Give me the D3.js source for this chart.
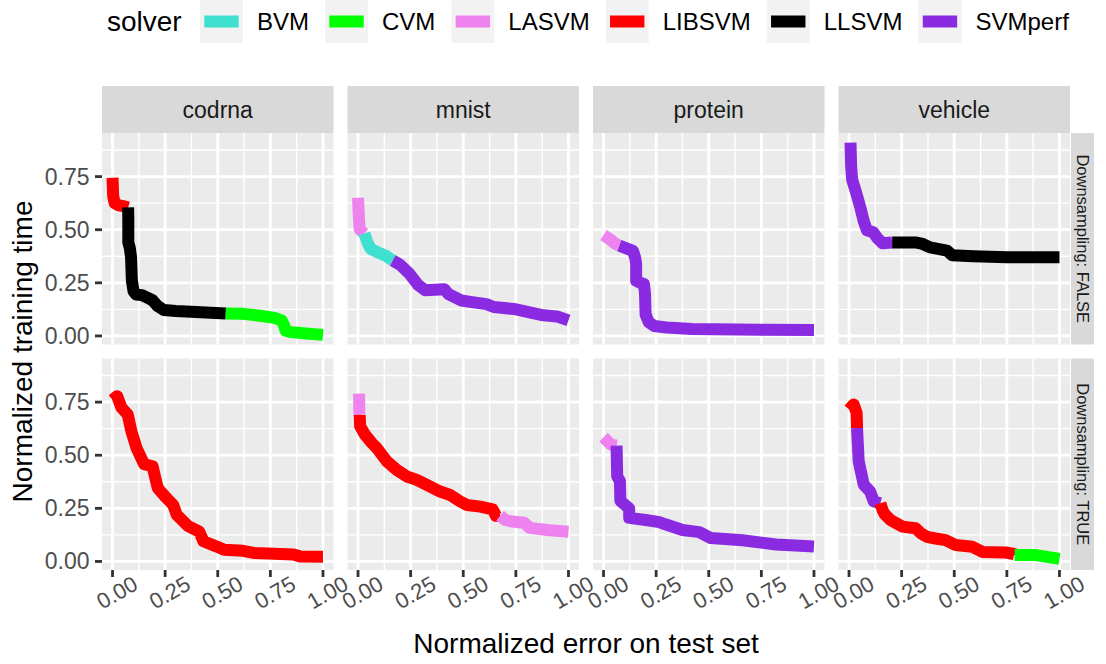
<!DOCTYPE html>
<html>
<head>
<meta charset="utf-8">
<script src="https://cdn.jsdelivr.net/npm/d3@7"></script>
<style>
  body { margin: 0; background: #fff; }
  svg { display: block; }
  text { font-family: "Liberation Sans", Arial, sans-serif; }
</style>
</head>
<body>
<svg id="chart" width="1106" height="664"></svg>
<script>
// Solvers and their colours
const solvers = ["BVM", "CVM", "LASVM", "LIBSVM", "LLSVM", "SVMperf"];
const solverColors = ["#40E0D0", "#00FF00", "#EE82EE", "#FF0000", "#000000", "#8A2BE2"];

// Facets
const datasets = ["codrna", "mnist", "protein", "vehicle"];
const downsampling = ["FALSE", "TRUE"];

// Axis ticks
const xTicks = [0, 0.25, 0.5, 0.75, 1];
const xTickLabels = ["0.00", "0.25", "0.50", "0.75", "1.00"];
const yTicks = [0, 0.25, 0.5, 0.75];
const yTickLabels = ["0.00", "0.25", "0.50", "0.75"];

// Traces: [normalized test error, normalized training time, best solver]
const codrnaFalse = [
  [0.000, 0.745, "LIBSVM"], [0.003, 0.660, "LIBSVM"], [0.010, 0.625, "LIBSVM"],
  [0.030, 0.615, "LIBSVM"], [0.058, 0.610, "LIBSVM"],
  [0.074, 0.605, "LLSVM"], [0.075, 0.560, "LLSVM"], [0.075, 0.440, "LLSVM"],
  [0.082, 0.415, "LLSVM"], [0.088, 0.370, "LLSVM"], [0.092, 0.260, "LLSVM"],
  [0.100, 0.210, "LLSVM"], [0.112, 0.195, "LLSVM"], [0.140, 0.192, "LLSVM"],
  [0.165, 0.180, "LLSVM"], [0.190, 0.168, "LLSVM"], [0.215, 0.140, "LLSVM"],
  [0.245, 0.122, "LLSVM"], [0.300, 0.117, "LLSVM"], [0.420, 0.112, "LLSVM"],
  [0.538, 0.106, "CVM"], [0.620, 0.104, "CVM"], [0.700, 0.095, "CVM"],
  [0.770, 0.085, "CVM"], [0.805, 0.072, "CVM"], [0.815, 0.050, "CVM"],
  [0.822, 0.025, "CVM"], [0.850, 0.018, "CVM"], [0.920, 0.012, "CVM"],
  [1.000, 0.005, "CVM"]
];
const mnistFalse = [
  [0.000, 0.650, "LASVM"], [0.004, 0.560, "LASVM"], [0.008, 0.500, "LASVM"],
  [0.030, 0.482, "BVM"], [0.045, 0.440, "BVM"], [0.060, 0.410, "BVM"],
  [0.095, 0.393, "BVM"], [0.135, 0.376, "BVM"],
  [0.165, 0.355, "SVMperf"], [0.200, 0.335, "SVMperf"], [0.245, 0.292, "SVMperf"],
  [0.285, 0.240, "SVMperf"], [0.320, 0.215, "SVMperf"], [0.410, 0.220, "SVMperf"],
  [0.430, 0.197, "SVMperf"], [0.490, 0.167, "SVMperf"], [0.550, 0.158, "SVMperf"],
  [0.610, 0.150, "SVMperf"], [0.645, 0.136, "SVMperf"], [0.740, 0.127, "SVMperf"],
  [0.880, 0.097, "SVMperf"], [0.945, 0.092, "SVMperf"], [1.000, 0.073, "SVMperf"]
];
const proteinFalse = [
  [0.000, 0.475, "LASVM"], [0.030, 0.455, "LASVM"], [0.055, 0.435, "LASVM"],
  [0.075, 0.425, "SVMperf"], [0.140, 0.400, "SVMperf"], [0.150, 0.370, "SVMperf"],
  [0.155, 0.340, "SVMperf"], [0.155, 0.260, "SVMperf"], [0.175, 0.250, "SVMperf"],
  [0.192, 0.245, "SVMperf"], [0.197, 0.200, "SVMperf"], [0.200, 0.100, "SVMperf"],
  [0.215, 0.065, "SVMperf"], [0.240, 0.047, "SVMperf"], [0.300, 0.040, "SVMperf"],
  [0.420, 0.033, "SVMperf"], [0.740, 0.029, "SVMperf"], [1.000, 0.028, "SVMperf"]
];
const vehicleFalse = [
  [0.007, 0.910, "SVMperf"], [0.010, 0.800, "SVMperf"], [0.015, 0.735, "SVMperf"],
  [0.035, 0.670, "SVMperf"], [0.055, 0.600, "SVMperf"], [0.070, 0.540, "SVMperf"],
  [0.085, 0.497, "SVMperf"], [0.115, 0.488, "SVMperf"], [0.135, 0.460, "SVMperf"],
  [0.160, 0.436, "SVMperf"],
  [0.205, 0.440, "LLSVM"], [0.315, 0.440, "LLSVM"], [0.350, 0.433, "LLSVM"],
  [0.385, 0.417, "LLSVM"], [0.465, 0.402, "LLSVM"], [0.490, 0.380, "LLSVM"],
  [0.590, 0.375, "LLSVM"], [0.750, 0.370, "LLSVM"], [1.000, 0.370, "LLSVM"]
];
const codrnaTrue = [
  [0.000, 0.760, "LIBSVM"], [0.022, 0.778, "LIBSVM"], [0.042, 0.725, "LIBSVM"],
  [0.072, 0.692, "LIBSVM"], [0.090, 0.612, "LIBSVM"], [0.114, 0.534, "LIBSVM"],
  [0.150, 0.458, "LIBSVM"], [0.190, 0.448, "LIBSVM"], [0.215, 0.345, "LIBSVM"],
  [0.255, 0.300, "LIBSVM"], [0.288, 0.266, "LIBSVM"], [0.305, 0.220, "LIBSVM"],
  [0.330, 0.195, "LIBSVM"], [0.360, 0.166, "LIBSVM"], [0.412, 0.140, "LIBSVM"],
  [0.432, 0.095, "LIBSVM"], [0.495, 0.070, "LIBSVM"], [0.530, 0.055, "LIBSVM"],
  [0.620, 0.050, "LIBSVM"], [0.670, 0.040, "LIBSVM"], [0.860, 0.033, "LIBSVM"],
  [0.892, 0.023, "LIBSVM"], [1.000, 0.022, "LIBSVM"]
];
const mnistTrue = [
  [0.005, 0.790, "LASVM"], [0.006, 0.700, "LASVM"],
  [0.008, 0.690, "LIBSVM"], [0.010, 0.636, "LIBSVM"], [0.033, 0.597, "LIBSVM"],
  [0.065, 0.558, "LIBSVM"], [0.089, 0.534, "LIBSVM"], [0.137, 0.471, "LIBSVM"],
  [0.184, 0.431, "LIBSVM"], [0.232, 0.400, "LIBSVM"], [0.279, 0.384, "LIBSVM"],
  [0.327, 0.360, "LIBSVM"], [0.390, 0.329, "LIBSVM"], [0.438, 0.313, "LIBSVM"],
  [0.486, 0.282, "LIBSVM"], [0.517, 0.266, "LIBSVM"], [0.581, 0.258, "LIBSVM"],
  [0.640, 0.245, "LIBSVM"], [0.655, 0.215, "LIBSVM"],
  [0.675, 0.215, "LASVM"], [0.700, 0.195, "LASVM"], [0.730, 0.188, "LASVM"],
  [0.790, 0.182, "LASVM"], [0.815, 0.158, "LASVM"], [0.900, 0.148, "LASVM"],
  [1.000, 0.140, "LASVM"]
];
const proteinTrue = [
  [0.000, 0.585, "LASVM"], [0.020, 0.565, "LASVM"], [0.035, 0.550, "LASVM"],
  [0.062, 0.545, "SVMperf"], [0.065, 0.400, "SVMperf"], [0.078, 0.378, "SVMperf"],
  [0.080, 0.285, "SVMperf"], [0.100, 0.268, "SVMperf"], [0.122, 0.250, "SVMperf"],
  [0.122, 0.205, "SVMperf"], [0.200, 0.195, "SVMperf"], [0.265, 0.185, "SVMperf"],
  [0.290, 0.176, "SVMperf"], [0.375, 0.148, "SVMperf"], [0.455, 0.138, "SVMperf"],
  [0.510, 0.110, "SVMperf"], [0.660, 0.100, "SVMperf"], [0.820, 0.080, "SVMperf"],
  [1.000, 0.070, "SVMperf"]
];
const vehicleTrue = [
  [0.000, 0.715, "LIBSVM"], [0.022, 0.739, "LIBSVM"], [0.036, 0.700, "LIBSVM"],
  [0.038, 0.640, "LIBSVM"],
  [0.038, 0.628, "SVMperf"], [0.046, 0.471, "SVMperf"], [0.070, 0.361, "SVMperf"],
  [0.100, 0.330, "SVMperf"], [0.118, 0.282, "SVMperf"],
  [0.149, 0.274, "LIBSVM"], [0.160, 0.240, "LIBSVM"], [0.170, 0.222, "LIBSVM"],
  [0.197, 0.195, "LIBSVM"], [0.253, 0.164, "LIBSVM"], [0.316, 0.156, "LIBSVM"],
  [0.345, 0.130, "LIBSVM"], [0.370, 0.116, "LIBSVM"], [0.411, 0.108, "LIBSVM"],
  [0.459, 0.100, "LIBSVM"], [0.507, 0.077, "LIBSVM"], [0.586, 0.069, "LIBSVM"],
  [0.634, 0.045, "LIBSVM"], [0.745, 0.042, "LIBSVM"], [0.784, 0.035, "LIBSVM"],
  [0.787, 0.030, "CVM"], [0.888, 0.030, "CVM"], [1.000, 0.012, "CVM"]
];

const panelTraces = [
  [codrnaFalse, mnistFalse, proteinFalse, vehicleFalse],
  [codrnaTrue, mnistTrue, proteinTrue, vehicleTrue]
];

// ---- layout ----
const panelLeft = 102, panelW = 231.5, colGap = 14;
const panelTop = 133, panelH = 211.5, rowGap = 14;
const stripTopY = 86, stripTopH = 47;
const stripRightW = 23;
const tickLen = 7;
const lineW = 12;

const svg = d3.select("#chart");
const color = d3.scaleOrdinal(solvers, solverColors);

const x = d3.scaleLinear().domain([-0.05, 1.05]).range([0, panelW]);
const allT = panelTraces.flat(2).map(d => d[1]);
const [tMin, tMax] = d3.extent(allT);
const tPad = 0.05 * (tMax - tMin);
const y = d3.scaleLinear().domain([tMin - tPad, tMax + tPad]).range([panelH, 0]);

const line = d3.line().x(d => x(d[0])).y(d => y(d[1]));

// split a trace into runs of one solver; each run carries the next run's first point
function solverRuns(trace) {
  const out = [];
  let cur = null;
  trace.forEach(p => {
    if (!cur || cur.solver !== p[2]) {
      if (cur) cur.points.push(p);
      cur = { solver: p[2], points: [p] };
      out.push(cur);
    } else {
      cur.points.push(p);
    }
  });
  return out;
}

const minorX = [0.125, 0.375, 0.625, 0.875];
const minorY = [0.125, 0.375, 0.625, 0.875].filter(v => v <= y.domain()[1]);

downsampling.forEach((ds, r) => {
  const py = panelTop + r * (panelH + rowGap);
  datasets.forEach((name, c) => {
    const px = panelLeft + c * (panelW + colGap);
    const g = svg.append("g").attr("transform", `translate(${px},${py})`);
    g.append("rect").attr("width", panelW).attr("height", panelH).attr("fill", "#EBEBEB");

    // grid
    g.selectAll(".gxm").data(minorX).join("line")
      .attr("x1", d => x(d)).attr("x2", d => x(d)).attr("y1", 0).attr("y2", panelH)
      .attr("stroke", "#fff").attr("stroke-width", 1.4);
    g.selectAll(".gym").data(minorY).join("line")
      .attr("y1", d => y(d)).attr("y2", d => y(d)).attr("x1", 0).attr("x2", panelW)
      .attr("stroke", "#fff").attr("stroke-width", 1.4);
    g.selectAll(".gx").data(xTicks).join("line")
      .attr("x1", d => x(d)).attr("x2", d => x(d)).attr("y1", 0).attr("y2", panelH)
      .attr("stroke", "#fff").attr("stroke-width", 2.8);
    g.selectAll(".gy").data(yTicks).join("line")
      .attr("y1", d => y(d)).attr("y2", d => y(d)).attr("x1", 0).attr("x2", panelW)
      .attr("stroke", "#fff").attr("stroke-width", 2.8);

    // traces
    const clipId = `clip-${r}-${c}`;
    g.append("clipPath").attr("id", clipId).append("rect").attr("width", panelW).attr("height", panelH);
    g.append("g").attr("clip-path", `url(#${clipId})`)
      .selectAll("path").data(solverRuns(panelTraces[r][c])).join("path")
      .attr("d", d => line(d.points))
      .attr("fill", "none")
      .attr("stroke", d => color(d.solver))
      .attr("stroke-width", lineW)
      .attr("stroke-linecap", "butt")
      .attr("stroke-linejoin", "round");

    // top strips
    if (r === 0) {
      svg.append("rect").attr("x", px).attr("y", stripTopY).attr("width", panelW).attr("height", stripTopH)
        .attr("fill", "#D9D9D9");
      svg.append("text").attr("x", px + panelW / 2).attr("y", stripTopY + stripTopH / 2)
        .attr("dy", "0.35em").attr("text-anchor", "middle")
        .attr("font-size", 23).attr("fill", "#1A1A1A").text(name);
    }
    // right strips
    if (c === datasets.length - 1) {
      const sx = px + panelW + 1;
      svg.append("rect").attr("x", sx).attr("y", py).attr("width", stripRightW).attr("height", panelH)
        .attr("fill", "#D9D9D9");
      svg.append("text")
        .attr("transform", `translate(${sx + stripRightW / 2},${py + panelH / 2}) rotate(90)`)
        .attr("dy", "0.35em").attr("text-anchor", "middle")
        .attr("font-size", 16.5).attr("fill", "#1A1A1A").text(`Downsampling: ${ds}`);
    }
    // y axis
    if (c === 0) {
      const ya = svg.append("g").attr("transform", `translate(${px},${py})`);
      ya.selectAll("line").data(yTicks).join("line")
        .attr("x1", -tickLen).attr("x2", 0).attr("y1", d => y(d)).attr("y2", d => y(d))
        .attr("stroke", "#333").attr("stroke-width", 2.8);
      ya.selectAll("text").data(yTicks).join("text")
        .attr("x", -tickLen - 5.5).attr("y", d => y(d)).attr("dy", "0.35em")
        .attr("text-anchor", "end").attr("font-size", 23).attr("fill", "#4D4D4D")
        .text((d, i) => yTickLabels[i]);
    }
    // x axis
    if (r === downsampling.length - 1) {
      const xa = svg.append("g").attr("transform", `translate(${px},${py + panelH})`);
      xa.selectAll("line").data(xTicks).join("line")
        .attr("x1", d => x(d)).attr("x2", d => x(d)).attr("y1", 0).attr("y2", tickLen)
        .attr("stroke", "#333").attr("stroke-width", 2.8);
      xa.selectAll("text").data(xTicks).join("text")
        .attr("transform", d => `translate(${x(d) + 4.5},${22.5}) rotate(-30)`)
        .attr("dy", "0.35em").attr("text-anchor", "middle")
        .attr("font-size", 22).attr("fill", "#4D4D4D")
        .text((d, i) => xTickLabels[i]);
    }
  });
});

// axis titles
const panelsRight = panelLeft + datasets.length * panelW + (datasets.length - 1) * colGap;
const panelsBottom = panelTop + downsampling.length * panelH + (downsampling.length - 1) * rowGap;
svg.append("text")
  .attr("x", (panelLeft + panelsRight) / 2).attr("y", 643).attr("dy", "0.35em")
  .attr("text-anchor", "middle").attr("font-size", 28).attr("fill", "#000")
  .text("Normalized error on test set");
svg.append("text")
  .attr("transform", `translate(22,${(panelTop + panelsBottom) / 2}) rotate(-90)`)
  .attr("dy", "0.35em").attr("text-anchor", "middle").attr("font-size", 28).attr("fill", "#000")
  .text("Normalized training time");

// legend
const legend = svg.append("g");
legend.append("text").attr("x", 107).attr("y", 21.5).attr("dy", "0.35em")
  .attr("font-size", 28).attr("fill", "#000").text("solver");
let kx = 200;
const keySize = 43;
solvers.forEach(s => {
  legend.append("rect").attr("x", kx).attr("y", 0).attr("width", keySize).attr("height", keySize)
    .attr("fill", "#F2F2F2");
  legend.append("line").attr("x1", kx + keySize * 0.1).attr("x2", kx + keySize * 0.9)
    .attr("y1", keySize / 2).attr("y2", keySize / 2)
    .attr("stroke", color(s)).attr("stroke-width", lineW);
  const t = legend.append("text").attr("x", kx + keySize + 14).attr("y", 21.5).attr("dy", "0.35em")
    .attr("font-size", 24).attr("fill", "#000").text(s);
  kx += keySize + 14 + t.node().getComputedTextLength() + 16;
});
</script>
</body>
</html>
